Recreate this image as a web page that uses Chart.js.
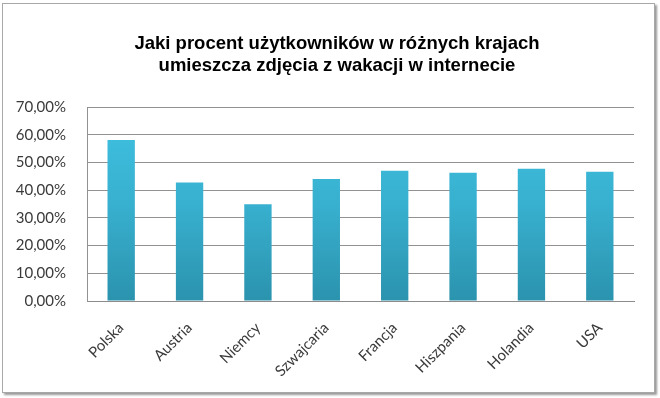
<!DOCTYPE html>
<html>
<head>
<meta charset="utf-8">
<script src="https://cdn.jsdelivr.net/npm/chart.js@4/dist/chart.umd.min.js"></script>
<style>
  html, body { margin: 0; padding: 0; background: #ffffff; }
  #wrap { position: relative; width: 660px; height: 398px; overflow: hidden; background: #fff; }
  #frame { position: absolute; left: 2px; top: 3px; width: 651px; height: 388px;
           border: 1px solid #a8a8a8; box-shadow: 2px 2px 2px #9a9a9a; background: #fff; }
  canvas { position: absolute; left: 0; top: 0; }
</style>
</head>
<body>
<div id="wrap">
  <div id="frame"></div>
  <canvas id="c" width="660" height="398"></canvas>
</div>
<script>
const titleLines = ['Jaki procent użytkowników w różnych krajach', 'umieszcza zdjęcia z wakacji w internecie'];
const categories = ['Polska', 'Austria', 'Niemcy', 'Szwajcaria', 'Francja', 'Hiszpania', 'Holandia', 'USA'];
const shares = [0.581, 0.428, 0.349, 0.440, 0.470, 0.463, 0.477, 0.466];
const yTicks = [0, 0.1, 0.2, 0.3, 0.4, 0.5, 0.6, 0.7];

function fmtPct(v) {
  return (v * 100).toFixed(2).replace('.', ',') + '%';
}

function barGradient(ctx) {
  const chart = ctx.chart;
  const area = chart.chartArea;
  if (!area) return '#3bb6d6';
  const g = chart.ctx.createLinearGradient(0, area.top, 0, area.bottom);
  g.addColorStop(0, '#40c2e2');
  g.addColorStop(0.5, '#38b0cf');
  g.addColorStop(1, '#2b93ae');
  return g;
}

// centre the title over the region 40..634 like the reference
const titleShift = {
  id: 'titleShift',
  afterLayout(chart) {
    const tb = chart.titleBlock;
    if (tb) { tb.left = 40; tb.right = 634; tb.width = tb.right - tb.left; }
  }
};

new Chart(document.getElementById('c'), {
  type: 'bar',
  data: {
    labels: categories,
    datasets: [{
      data: shares,
      backgroundColor: barGradient,
      borderWidth: 0,
      barPercentage: 0.4,
      categoryPercentage: 1.0
    }]
  },
  plugins: [titleShift],
  options: {
    responsive: false,
    animation: false,
    devicePixelRatio: 1,
    layout: { padding: { left: 0, right: 26, top: 0, bottom: 0 } },
    plugins: {
      legend: { display: false },
      tooltip: { enabled: false },
      title: {
        display: true,
        text: titleLines,
        color: '#000000',
        font: { family: 'Liberation Sans', size: 18.5, weight: 'bold', lineHeight: 1.2 },
        padding: { top: 33, bottom: 29.6 }
      }
    },
    scales: {
      x: {
        offset: true,
        grid: { display: false, drawTicks: false },
        border: { display: true, color: '#8c8c8c', width: 1 },
        ticks: {
          minRotation: 45, maxRotation: 45,
          padding: 18,
          color: '#3a3a3a',
          font: { family: 'Lato', size: 15 }
        },
        afterFit: s => { s.height = 97; }
      },
      y: {
        min: 0, max: 0.7,
        afterBuildTicks: s => { s.ticks = yTicks.map(v => ({ value: v })); },
        grid: { color: '#929292', lineWidth: 1, drawTicks: false },
        border: { display: true, color: '#929292', width: 1 },
        ticks: {
          padding: 21,
          color: '#3a3a3a',
          font: { family: 'Lato', size: 15 },
          callback: v => fmtPct(v)
        },
        afterFit: s => { s.width = 87; }
      }
    }
  }
});
</script>
</body>
</html>
